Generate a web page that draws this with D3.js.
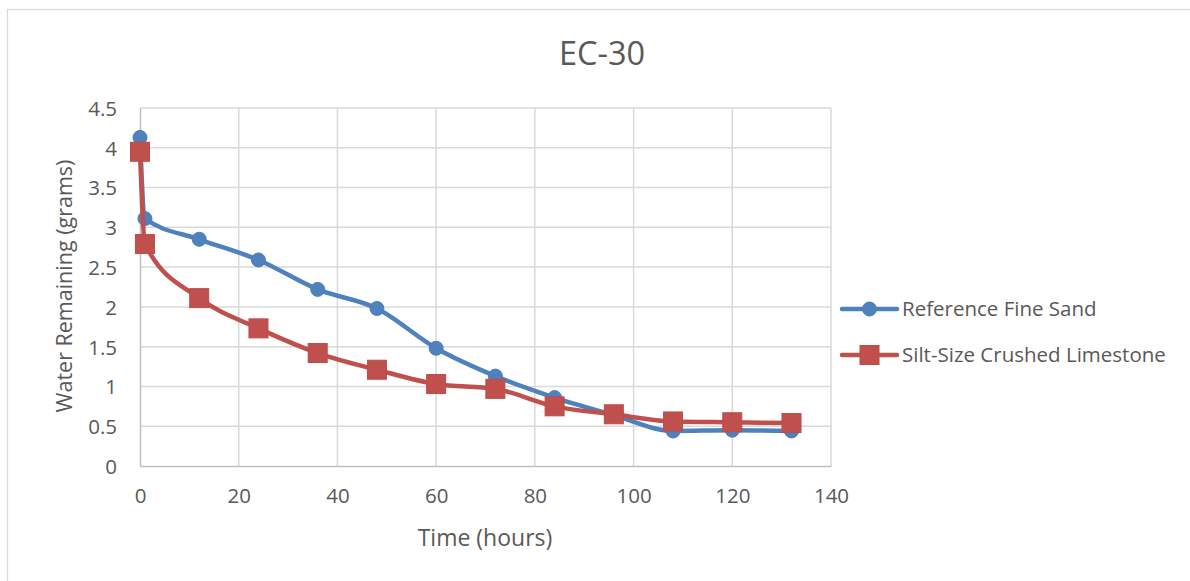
<!DOCTYPE html>
<html>
<head>
<meta charset="utf-8">
<script src="https://cdn.jsdelivr.net/npm/d3@7"></script>
<style>
  html, body { margin: 0; padding: 0; background: #fff; }
  svg { display: block; font-family: "Open Sans", "Noto Sans", sans-serif; }
</style>
</head>
<body>
<svg id="chart" width="1190" height="581"></svg>
<script>
// Drying time (hours) and water remaining (grams) for the two materials
const hours = [0, 1, 12, 24, 36, 48, 60, 72, 84, 96, 108, 120, 132];
const fineSand = [4.13, 3.11, 2.85, 2.59, 2.22, 1.98, 1.48, 1.13, 0.86, 0.64, 0.44, 0.45, 0.44];
const crushedLimestone = [3.95, 2.79, 2.11, 1.73, 1.42, 1.21, 1.03, 0.97, 0.75, 0.65, 0.56, 0.55, 0.54];
const seriesNames = ["Reference Fine Sand", "Silt-Size Crushed Limestone"];
const xTicks = [0, 20, 40, 60, 80, 100, 120, 140];
const yTicks = [0, 0.5, 1, 1.5, 2, 2.5, 3, 3.5, 4, 4.5];
const chartTitle = "EC-30";
const xTitle = "Time (hours)";
const yTitle = "Water Remaining (grams)";

const colors = ["#4F81BD", "#C0504D"];
const strokes = ["#4A7EBB", "#BE4B48"];
const textColor = "#595959";
const gridColor = "#D9D9D9";

const svg = d3.select("#chart");

// outer chart frame
svg.append("rect")
  .attr("x", 7.5).attr("y", 9.5)
  .attr("width", 1200).attr("height", 600)
  .attr("fill", "none").attr("stroke", gridColor).attr("stroke-width", 1.2);

const x = d3.scaleLinear().domain([0, 140]).range([140, 831]);
const y = d3.scaleLinear().domain([0, 4.5]).range([466, 108]);

// gridlines
const grid = svg.append("g");
grid.selectAll("line.h").data(yTicks.slice(1)).join("line")
  .attr("x1", x(0)).attr("x2", x(140))
  .attr("y1", d => y(d)).attr("y2", d => y(d))
  .attr("stroke", gridColor).attr("stroke-width", 1.5);
grid.selectAll("line.v").data(xTicks.slice(1)).join("line")
  .attr("y1", y(0)).attr("y2", y(4.5))
  .attr("x1", d => x(d)).attr("x2", d => x(d))
  .attr("stroke", gridColor).attr("stroke-width", 1.5);

// axes
const xAxis = svg.append("g")
  .attr("transform", `translate(0,${y(0)})`)
  .call(d3.axisBottom(x).tickValues(xTicks).tickSize(0).tickPadding(22).tickFormat(d3.format("d")));
const yAxis = svg.append("g")
  .attr("transform", `translate(${x(0)},0)`)
  .call(d3.axisLeft(y).tickValues(yTicks).tickSize(0).tickPadding(23).tickFormat(d => String(d)));
[xAxis, yAxis].forEach(g => {
  g.select(".domain").attr("stroke", "#BFBFBF").attr("stroke-width", 1.5);
  g.selectAll("text").attr("fill", textColor).attr("font-size", 20.5)
    .attr("font-family", "'Open Sans', 'Noto Sans', sans-serif");
});
xAxis.selectAll("text").attr("dy", "0.71em");
yAxis.selectAll("text").attr("dy", "0.36em");

// titles
svg.append("text").attr("x", 602).attr("y", 65).attr("text-anchor", "middle")
  .attr("font-size", 32.5).attr("fill", textColor).text(chartTitle);
svg.append("text").attr("x", 485).attr("y", 546).attr("text-anchor", "middle")
  .attr("font-size", 23).attr("fill", textColor).text(xTitle);
svg.append("text")
  .attr("transform", "translate(72,286) rotate(-90)")
  .attr("text-anchor", "middle").attr("font-size", 21.5).attr("fill", textColor).text(yTitle);

// series
const line = d3.line().x(d => x(d[0])).y(d => y(d[1])).curve(d3.curveMonotoneX);
const seriesData = [fineSand, crushedLimestone].map(vals => hours.map((h, i) => [h, vals[i]]));

seriesData.forEach((pts, si) => {
  const g = svg.append("g");
  g.append("path").datum(pts).attr("d", line)
    .attr("fill", "none").attr("stroke", colors[si]).attr("stroke-width", 4.5)
    .attr("stroke-linejoin", "round").attr("stroke-linecap", "round");
  if (si === 0) {
    g.selectAll("circle").data(pts).join("circle")
      .attr("cx", d => x(d[0])).attr("cy", d => y(d[1])).attr("r", 7)
      .attr("fill", colors[si]).attr("stroke", strokes[si]).attr("stroke-width", 1);
  } else {
    g.selectAll("rect").data(pts).join("rect")
      .attr("x", d => x(d[0]) - 9.5).attr("y", d => y(d[1]) - 9.5)
      .attr("width", 19).attr("height", 19)
      .attr("fill", colors[si]).attr("stroke", strokes[si]).attr("stroke-width", 1);
  }
});

// legend
const legend = svg.append("g");
seriesNames.forEach((name, i) => {
  const ly = 309 + i * 46;
  legend.append("line").attr("x1", 842).attr("x2", 897).attr("y1", ly).attr("y2", ly)
    .attr("stroke", colors[i]).attr("stroke-width", 4.5).attr("stroke-linecap", "round");
  if (i === 0) {
    legend.append("circle").attr("cx", 869.5).attr("cy", ly).attr("r", 7)
      .attr("fill", colors[i]).attr("stroke", strokes[i]);
  } else {
    legend.append("rect").attr("x", 860).attr("y", ly - 9.5).attr("width", 19).attr("height", 19)
      .attr("fill", colors[i]).attr("stroke", strokes[i]);
  }
  legend.append("text").attr("x", 902).attr("y", ly).attr("dy", "0.35em")
    .attr("font-size", 20.5).attr("fill", textColor).text(name);
});
</script>
</body>
</html>
